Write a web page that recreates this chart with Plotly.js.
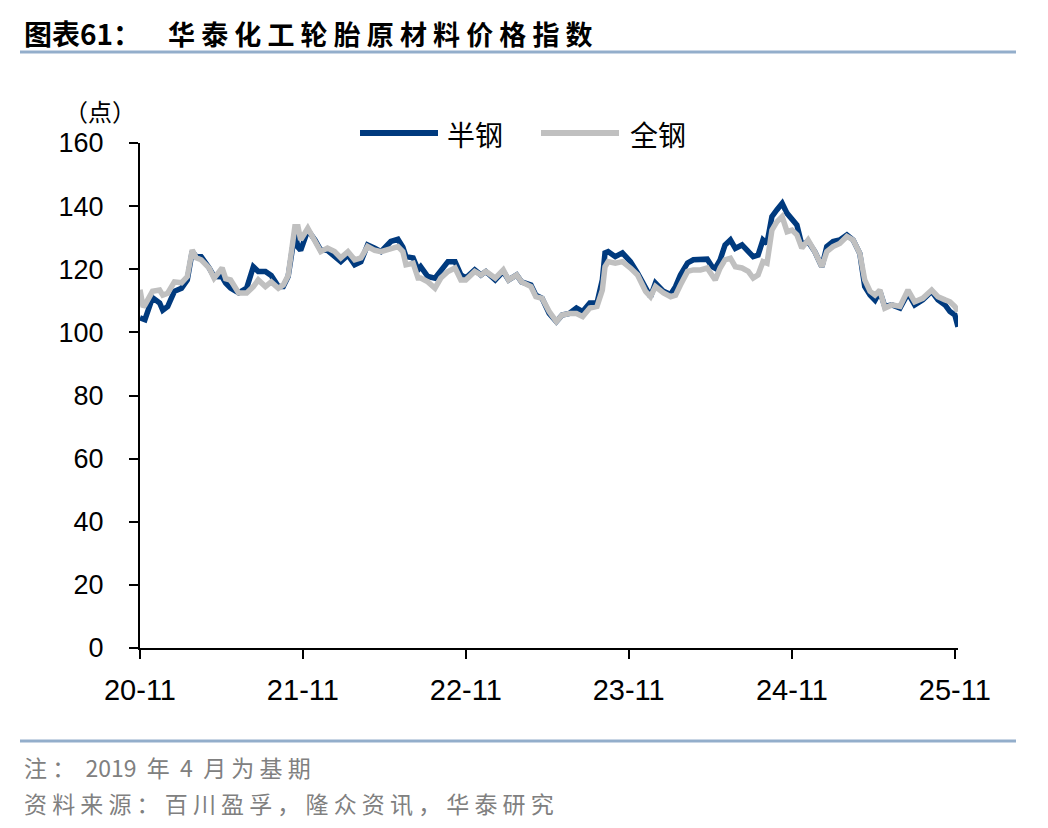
<!DOCTYPE html>
<html><head><meta charset="utf-8">
<script src="https://cdn.plot.ly/plotly-3.0.1.min.js"></script>
<style>html,body{margin:0;padding:0;background:#fff}</style>
</head><body><div id="chart" style="width:1048px;height:828px"></div>
<script>
const dates = ['2020-11-01','2020-11-08','2020-11-12','2020-11-29','2020-12-15','2020-12-22','2021-01-02','2021-01-17','2021-02-02','2021-02-15','2021-02-26','2021-03-07','2021-03-18','2021-04-05','2021-04-16','2021-05-04','2021-05-12','2021-05-23','2021-06-10','2021-06-28','2021-07-13','2021-07-24','2021-08-09','2021-08-22','2021-09-07','2021-09-18','2021-09-29','2021-10-14','2021-10-21','2021-10-27','2021-11-12','2021-11-28','2021-12-11','2021-12-26','2022-01-11','2022-01-25','2022-02-10','2022-02-25','2022-03-11','2022-03-26','2022-04-11','2022-04-25','2022-05-17','2022-06-02','2022-06-13','2022-06-20','2022-07-06','2022-07-17','2022-07-23','2022-08-08','2022-08-24','2022-09-06','2022-09-22','2022-10-08','2022-10-21','2022-11-01','2022-11-21','2022-12-05','2022-12-16','2023-01-06','2023-01-24','2023-02-05','2023-02-23','2023-03-06','2023-03-27','2023-04-07','2023-04-21','2023-05-07','2023-05-23','2023-06-05','2023-06-21','2023-07-07','2023-07-21','2023-08-06','2023-08-22','2023-09-03','2023-09-09','2023-09-16','2023-10-02','2023-10-18','2023-11-05','2023-11-21','2023-12-09','2023-12-20','2023-12-31','2024-01-18','2024-02-03','2024-02-14','2024-02-25','2024-03-12','2024-03-25','2024-04-10','2024-04-25','2024-05-06','2024-05-13','2024-05-24','2024-06-04','2024-06-16','2024-06-27','2024-07-12','2024-07-26','2024-08-06','2024-08-17','2024-08-28','2024-09-06','2024-09-17','2024-09-28','2024-10-10','2024-10-21','2024-11-01','2024-11-12','2024-11-23','2024-12-07','2024-12-22','2025-01-07','2025-01-18','2025-02-01','2025-02-16','2025-03-04','2025-03-18','2025-04-02','2025-04-13','2025-04-25','2025-05-06','2025-05-17','2025-05-28','2025-06-13','2025-07-01','2025-07-19','2025-08-03','2025-08-21','2025-09-10','2025-09-24','2025-10-10','2025-10-21','2025-11-01','2025-11-08'];

const semiSteel = [104.6,104.2,104.0,111.0,109.3,107.0,108.2,113.0,114.0,116.6,125.6,124.0,124.0,120.4,117.7,117.6,115.6,114.0,112.5,114.0,120.8,119.3,119.3,118.0,114.5,114.5,117.7,131.5,127.0,126.0,132.4,129.3,126.0,126.0,124.0,122.4,124.5,121.4,122.4,127.7,126.7,125.6,128.8,129.5,127.0,124.0,123.6,119.8,120.8,117.7,117.2,119.3,122.4,122.4,118.2,117.2,119.8,118.2,119.3,116.6,119.3,116.6,118.2,116.0,115.0,111.8,110.8,106.0,103.4,105.5,106.0,107.7,106.6,109.3,109.3,116.6,125.2,125.6,124.0,125.2,122.4,118.8,114.5,111.3,115.6,113.0,112.0,114.5,118.2,122.0,123.0,123.0,123.2,120.8,120.3,123.0,127.7,129.3,126.6,127.7,125.6,124.0,124.5,129.3,128.2,136.7,138.8,140.9,137.7,135.6,134.0,127.7,128.8,125.6,120.8,127.2,128.8,129.3,130.9,129.3,125.0,114.5,111.8,110.2,113.0,108.2,108.7,107.7,112.4,108.7,110.3,113.0,110.3,108.7,106.6,105.5,101.8];

const allSteel = [113.5,108.0,108.7,113.0,113.4,111.8,112.4,116.0,115.7,117.7,126.1,123.6,123.0,120.4,117.2,120.4,117.0,116.6,112.5,112.5,114.5,116.6,114.5,116.0,114.0,115.0,118.0,133.5,133.5,129.3,133.0,128.8,125.6,126.7,125.6,123.6,125.6,123.0,123.6,127.2,126.0,125.6,126.7,127.2,125.6,121.4,121.9,117.2,117.2,116.0,114.0,117.2,119.3,120.4,116.6,116.6,119.3,118.2,119.3,117.2,119.8,116.6,118.2,116.0,114.5,111.3,110.8,106.6,103.4,105.5,106.0,106.0,105.0,107.7,108.2,113.4,120.8,122.4,121.9,122.4,120.4,118.2,113.0,111.3,114.5,112.5,111.3,111.8,115.0,119.3,119.8,119.8,120.4,117.7,116.6,120.4,123.0,123.5,120.8,120.4,119.3,117.2,118.2,122.4,121.9,132.4,135.0,136.7,131.9,132.4,130.9,126.7,129.3,125.6,120.8,125.6,127.2,128.2,130.4,129.3,125.0,116.6,113.0,111.8,113.4,107.7,108.7,108.2,113.4,109.7,110.8,113.4,111.3,110.3,109.7,108.2,106.6];

const seriesNames = ['半钢','全钢'];
const seriesColors = ['#003A7E','#C0C0C0'];
const tickVals = ['2020-11-01','2021-11-01','2022-11-01','2023-11-01','2024-11-01','2025-11-01'];
const tickText = ['20-11','21-11','22-11','23-11','24-11','25-11'];
const yTicks = [0,20,40,60,80,100,120,140,160];

const titleLeft = '图表61：';
const titleRight = '华 泰 化 工 轮 胎 原 材 料 价 格 指 数';
const unitLabel = '（点）';
const noteText = '注 ：  2019  年  4  月 为 基 期';
const sourceText = '资 料 来 源 ： 百 川 盈 孚 ， 隆 众 资 讯 ， 华 泰 研 究';

// layout geometry (pixels)
const W = 1048, H = 828, L = 140, R = 958, T = 143, B = 648;
const px = x => (x - L) / (R - L);
const py = y => (B - y) / (B - T);
const CJK = '"Noto Sans CJK SC", "Noto Sans", sans-serif';
const ARIAL = '"Liberation Sans", Arial, sans-serif';
const ruleColor = '#93AECB';

const traces = [
  {x: dates, y: semiSteel, name: seriesNames[0], type: 'scatter', mode: 'lines',
   line: {color: seriesColors[0], width: 5.5, shape: 'linear'}},
  {x: dates, y: allSteel, name: seriesNames[1], type: 'scatter', mode: 'lines',
   line: {color: seriesColors[1], width: 5.5, shape: 'linear'}}
];

// legend drawn as line samples + labels (to match the long legend keys)
const legendKeys = [{x0: 360, x1: 438, tx: 445}, {x0: 541, x1: 619, tx: 628}];
const legendY = 133;
const legendShapes = legendKeys.map((k, i) => ({
  type: 'line', xref: 'paper', yref: 'paper', x0: px(k.x0), x1: px(k.x1), y0: py(legendY), y1: py(legendY),
  line: {color: seriesColors[i], width: 6}}));
const legendLabels = legendKeys.map((k, i) => ({
  text: seriesNames[i], xref: 'paper', yref: 'paper', x: px(k.tx), y: py(legendY + 1),
  xanchor: 'left', yanchor: 'middle', showarrow: false, font: {family: CJK, size: 28, color: '#000'}}));

const layout = {
  width: W, height: H,
  margin: {l: L, r: W - R, t: T, b: H - B, pad: 0},
  paper_bgcolor: '#fff', plot_bgcolor: '#fff',
  showlegend: false,
  xaxis: {type: 'date', range: ['2020-11-01', '2025-11-08'], tickvals: tickVals, ticktext: tickText,
          showgrid: false, zeroline: false, showline: true, linecolor: '#000', linewidth: 2,
          ticks: 'outside', ticklen: 9, tickwidth: 2, tickcolor: '#000',
          tickfont: {family: ARIAL, size: 29, color: '#000'}, ticklabelstandoff: 6},
  yaxis: {range: [0, 160], tickvals: yTicks, showgrid: false, zeroline: false,
          showline: true, linecolor: '#000', linewidth: 2,
          ticks: 'outside', ticklen: 9, tickwidth: 2, tickcolor: '#000',
          tickfont: {family: ARIAL, size: 27, color: '#000'}, ticklabelstandoff: 20},
  shapes: [
    {type: 'line', xref: 'paper', yref: 'paper', x0: px(20), x1: px(1016), y0: py(52), y1: py(52),
     line: {color: ruleColor, width: 3}},
    {type: 'line', xref: 'paper', yref: 'paper', x0: px(20), x1: px(1016), y0: py(741), y1: py(741),
     line: {color: ruleColor, width: 3}}
  ].concat(legendShapes),
  annotations: [
    {text: '<b>' + titleLeft + '</b>', xref: 'paper', yref: 'paper', x: px(22), y: py(33),
     xanchor: 'left', yanchor: 'middle', showarrow: false, font: {family: CJK, size: 28, color: '#000'}},
    {text: '<b>' + titleRight + '</b>', xref: 'paper', yref: 'paper', x: px(166), y: py(33),
     xanchor: 'left', yanchor: 'middle', showarrow: false, font: {family: CJK, size: 27, color: '#000'}},
    {text: unitLabel, xref: 'paper', yref: 'paper', x: px(62), y: py(111),
     xanchor: 'left', yanchor: 'middle', showarrow: false, font: {family: CJK, size: 24, color: '#000'}},
    {text: noteText, xref: 'paper', yref: 'paper', x: px(22), y: py(767),
     xanchor: 'left', yanchor: 'middle', showarrow: false, font: {family: CJK, size: 23, color: '#808080'}},
    {text: sourceText, xref: 'paper', yref: 'paper', x: px(22), y: py(803),
     xanchor: 'left', yanchor: 'middle', showarrow: false, font: {family: CJK, size: 23, color: '#808080'}}
  ].concat(legendLabels)
};

Plotly.newPlot('chart', traces, layout, {displayModeBar: false, staticPlot: true});
</script>
</body></html>
